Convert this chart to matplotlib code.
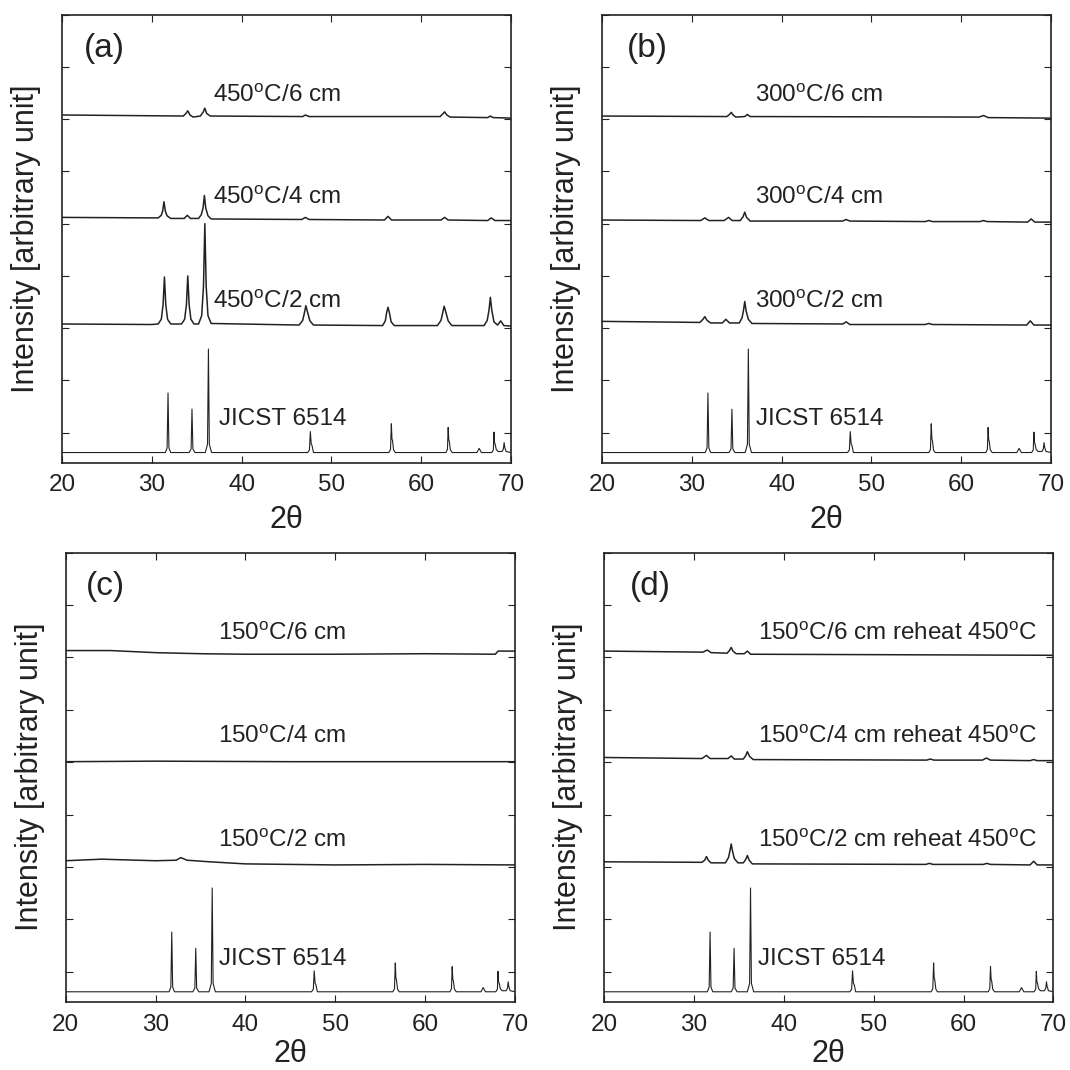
import matplotlib
matplotlib.use('Agg')
import matplotlib.pyplot as plt
import numpy as np

plt.rcParams['font.family'] = ['Liberation Sans', 'DejaVu Sans']
plt.rcParams['mathtext.fontset'] = 'custom'
plt.rcParams['mathtext.rm'] = 'Liberation Sans'

# - reference pattern (same in every panel), (2theta, intensity)
jicst = [(20, -0.38), (31.5, -0.38), (31.7, -0.29), (31.8, 0.76), (31.9, -0.29), (32.1, -0.38),
         (34.15, -0.38), (34.37, -0.31), (34.47, 0.45), (34.57, -0.31), (34.8, -0.38),
         (35.95, -0.38), (36.2, -0.22), (36.3, 1.60), (36.4, -0.22), (36.65, -0.38),
         (47.35, -0.38), (47.55, -0.33), (47.65, 0.02), (47.75, -0.22), (47.83, -0.24), (48.0, -0.38),
         (56.4, -0.38), (56.58, -0.32), (56.67, 0.17), (56.74, -0.12), (56.8, -0.15), (56.92, -0.33), (57.1, -0.38),
         (62.75, -0.38), (62.92, -0.32), (63.0, 0.10), (63.07, -0.14), (63.13, -0.17), (63.25, -0.33), (63.45, -0.38),
         (66.2, -0.38), (66.45, -0.30), (66.7, -0.38),
         (67.85, -0.38), (68.03, -0.33), (68.1, 0.01), (68.16, -0.19), (68.22, -0.21), (68.35, -0.32), (68.55, -0.36),
         (69.0, -0.36), (69.15, -0.31), (69.23, -0.19), (69.3, -0.28), (69.45, -0.36), (70, -0.38)]

# - panel (a): 450 C
a2 = [(20, 2.08), (30, 2.07),
      (30.7, 2.08), (31.05, 2.17), (31.25, 2.45), (31.4, 2.98), (31.55, 2.45), (31.75, 2.17), (32.1, 2.08),
      (33.3, 2.08), (33.65, 2.17), (33.85, 2.45), (34.0, 3.0), (34.15, 2.45), (34.35, 2.17), (34.7, 2.08),
      (35.2, 2.08), (35.55, 2.24), (35.75, 2.8), (35.9, 4.0), (36.05, 2.8), (36.25, 2.24), (36.6, 2.09),
      (46.4, 2.06), (46.8, 2.15), (47.0, 2.3), (47.15, 2.43), (47.35, 2.3), (47.6, 2.14), (48.0, 2.06),
      (55.7, 2.05), (56.0, 2.14), (56.15, 2.3), (56.3, 2.40), (56.45, 2.3), (56.65, 2.12), (57.0, 2.05),
      (61.8, 2.05), (62.2, 2.15), (62.4, 2.3), (62.55, 2.42), (62.75, 2.3), (63.0, 2.14), (63.4, 2.05),
      (67.0, 2.05), (67.35, 2.15), (67.55, 2.35), (67.7, 2.59), (67.85, 2.35), (68.1, 2.12), (68.5, 2.06),
      (68.85, 2.14), (69.2, 2.05), (70, 2.04)]
a4 = [(20, 4.12), (30.7, 4.11), (31.05, 4.16), (31.2, 4.24), (31.35, 4.42), (31.5, 4.24), (31.7, 4.15), (32.1, 4.10),
      (33.6, 4.10), (33.95, 4.16), (34.3, 4.10), (35.2, 4.10), (35.5, 4.17), (35.7, 4.30), (35.85, 4.54),
      (36.0, 4.30), (36.25, 4.15), (36.6, 4.09), (46.7, 4.08), (47.1, 4.12), (47.5, 4.08), (55.9, 4.07),
      (56.3, 4.14), (56.7, 4.07), (62.2, 4.07), (62.6, 4.12), (63.0, 4.07), (67.4, 4.06), (67.8, 4.11),
      (68.2, 4.06), (70, 4.06)]
a6 = [(20, 6.08), (33.5, 6.06), (33.8, 6.11), (34.0, 6.16), (34.25, 6.08), (34.6, 6.04), (35.4, 6.06),
      (35.7, 6.13), (35.9, 6.21), (36.1, 6.11), (36.5, 6.06), (46.8, 6.05), (47.1, 6.08), (47.5, 6.05),
      (62.1, 6.05), (62.4, 6.10), (62.6, 6.14), (62.85, 6.08), (63.2, 6.04), (67.4, 6.03), (67.7, 6.06),
      (68.0, 6.03), (70, 6.02)]

# - panel (b): 300 C
b2 = [(20, 2.13), (30.9, 2.11), (31.25, 2.17), (31.45, 2.22), (31.7, 2.15), (32.1, 2.10), (33.4, 2.10),
      (33.8, 2.17), (34.2, 2.10), (35.3, 2.10), (35.6, 2.2), (35.75, 2.33), (35.9, 2.51), (36.05, 2.33),
      (36.3, 2.17), (36.7, 2.09), (46.8, 2.08), (47.2, 2.12), (47.6, 2.07), (56.0, 2.07), (56.4, 2.09),
      (56.8, 2.07), (67.3, 2.06), (67.7, 2.14), (68.1, 2.06), (70, 2.06)]
b4 = [(20, 4.07), (31.0, 4.06), (31.45, 4.11), (31.9, 4.06), (33.6, 4.06), (34.1, 4.12), (34.5, 4.06),
      (35.4, 4.06), (35.7, 4.13), (35.9, 4.22), (36.1, 4.12), (36.5, 4.05), (46.8, 4.05), (47.2, 4.08),
      (47.6, 4.05), (56.0, 4.04), (56.4, 4.06), (56.8, 4.04), (62.1, 4.04), (62.5, 4.06), (62.9, 4.04),
      (67.4, 4.03), (67.8, 4.09), (68.2, 4.03), (70, 4.03)]
b6 = [(20, 6.06), (33.9, 6.05), (34.2, 6.09), (34.4, 6.13), (34.6, 6.08), (34.9, 6.04), (35.9, 6.05),
      (36.2, 6.09), (36.5, 6.05), (62.0, 6.04), (62.5, 6.07), (63.0, 6.03), (70, 6.02)]

# - panel (c): 150 C
c2 = [(20, 2.12), (24, 2.15), (30, 2.12), (32.3, 2.13), (32.8, 2.18), (33.5, 2.13), (36, 2.10),
      (40, 2.06), (50, 2.04), (60, 2.05), (70, 2.04)]
c4 = [(20, 4.01), (30, 4.02), (45, 4.01), (70, 4.01)]
c6 = [(20, 6.13), (25, 6.13), (30, 6.09), (35, 6.07), (40, 6.06), (50, 6.06), (60, 6.07),
      (67.8, 6.06), (68.1, 6.12), (70, 6.12)]

# - panel (d): 150 C reheated at 450 C
d2 = [(20, 2.10), (30.9, 2.09), (31.2, 2.13), (31.4, 2.20), (31.6, 2.13), (31.9, 2.08), (33.5, 2.08),
      (33.85, 2.18), (34.0, 2.3), (34.15, 2.44), (34.3, 2.3), (34.5, 2.16), (34.9, 2.08), (35.5, 2.08),
      (35.75, 2.14), (35.95, 2.22), (36.15, 2.13), (36.5, 2.06), (55.8, 2.05), (56.2, 2.07), (56.6, 2.05),
      (62.2, 2.05), (62.6, 2.07), (63.0, 2.05), (67.4, 2.04), (67.8, 2.11), (68.2, 2.04), (70, 2.04)]
d4 = [(20, 4.09), (30.9, 4.07), (31.4, 4.13), (31.8, 4.07), (33.8, 4.07), (34.15, 4.12), (34.5, 4.06),
      (35.5, 4.06), (35.75, 4.12), (35.95, 4.20), (36.2, 4.11), (36.6, 4.05), (55.9, 4.04), (56.3, 4.06),
      (56.7, 4.04), (62.1, 4.04), (62.55, 4.08), (63.0, 4.04), (67.4, 4.03), (67.8, 4.05), (68.2, 4.03),
      (70, 4.03)]
d6 = [(20, 6.12), (31.0, 6.10), (31.5, 6.14), (31.9, 6.09), (33.7, 6.08), (33.95, 6.13), (34.15, 6.19),
      (34.35, 6.12), (34.7, 6.07), (35.6, 6.07), (35.95, 6.12), (36.3, 6.06), (70, 6.04)]

panel_tags = ['(a)', '(b)', '(c)', '(d)']
a_labels = ['450$^{\\rm o}$C/2 cm', '450$^{\\rm o}$C/4 cm', '450$^{\\rm o}$C/6 cm']
b_labels = ['300$^{\\rm o}$C/2 cm', '300$^{\\rm o}$C/4 cm', '300$^{\\rm o}$C/6 cm']
c_labels = ['150$^{\\rm o}$C/2 cm', '150$^{\\rm o}$C/4 cm', '150$^{\\rm o}$C/6 cm']
d_labels = ['150$^{\\rm o}$C/2 cm reheat 450$^{\\rm o}$C', '150$^{\\rm o}$C/4 cm reheat 450$^{\\rm o}$C',
            '150$^{\\rm o}$C/6 cm reheat 450$^{\\rm o}$C']
ref_label = 'JICST 6514'
label_y = [2.38, 4.37, 6.33]

panels = [
    ([a2, a4, a6], a_labels, 36.8, 37.5, 22.45),
    ([b2, b4, b6], b_labels, 37.0, 37.2, 22.8),
    ([c2, c4, c6], c_labels, 37.0, 37.1, 22.3),
    ([d2, d4, d6], d_labels, 37.1, 37.1, 22.9),
]
# axes rectangles in figure fraction
rects = [[0.058, 0.5676, 0.4196, 0.4187],
         [0.5626, 0.5676, 0.4196, 0.4187],
         [0.0614, 0.0636, 0.42, 0.42],
         [0.5645, 0.0636, 0.42, 0.42]]

fig = plt.figure(figsize=(10.7, 10.7), dpi=100)
ink = '#222222'
for i in range(4):
    traces, labels, lx, jx, tx = panels[i]
    ax = fig.add_axes(rects[i])
    pts = np.array(jicst)
    ax.plot(pts[:, 0], pts[:, 1], color=ink, lw=0.8)
    for tr, lab, ly in zip(traces, labels, label_y):
        pts = np.array(tr)
        ax.plot(pts[:, 0], pts[:, 1], color=ink, lw=1.1)
        ax.text(lx, ly, lab, fontsize=17.5, color=ink, va='baseline', ha='left')
    ax.text(jx, 0.14, ref_label, fontsize=17.5, color=ink, va='baseline', ha='left')
    ax.text(tx, 7.35, panel_tags[i], fontsize=24, color=ink, va='center', ha='left')

    ax.set_xlim(20, 70)
    ax.set_ylim(-0.574, 8)
    ax.set_xticks([20, 30, 40, 50, 60, 70])
    ax.set_yticks(range(9))
    ax.tick_params(direction='in', length=5, width=0.8, top=True, right=True,
                   labelleft=False, labelsize=17.5, pad=8.5, colors=ink)
    for s in ax.spines.values():
        s.set_linewidth(1.2)
        s.set_color(ink)
    # bottom row sits close to the figure edge
    ax.set_xlabel('2\u03b8', fontsize=22, color=ink, labelpad=6 if i < 2 else 2)
    ax.set_ylabel('Intensity [arbitrary unit]', fontsize=22, color=ink, labelpad=15)

fig.savefig('out.png', dpi=100)
